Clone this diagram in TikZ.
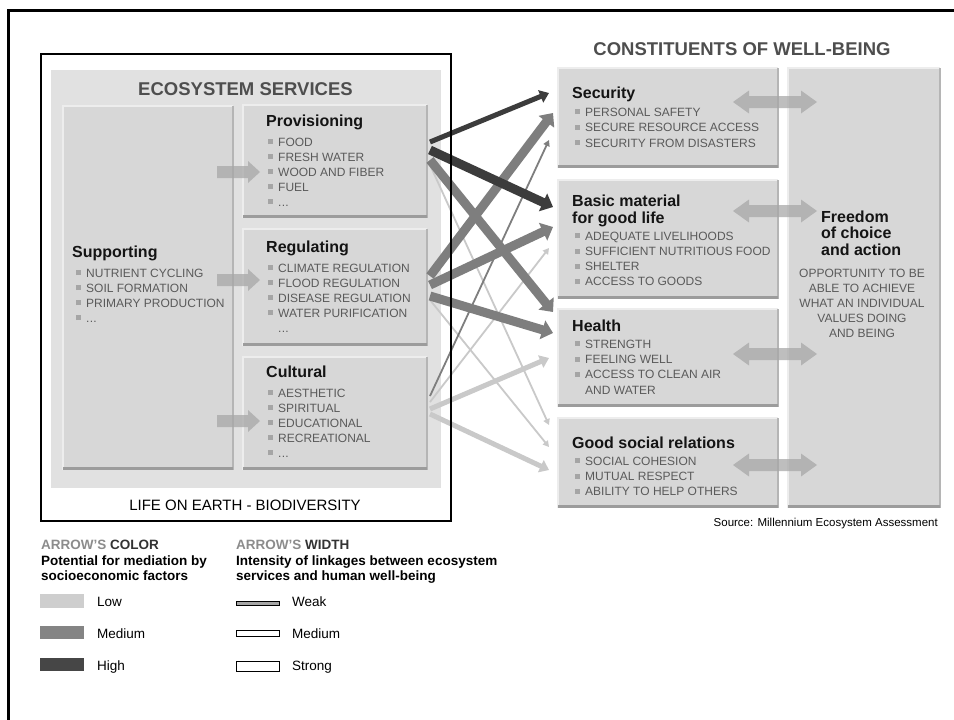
\documentclass[tikz,border=0pt]{standalone}
\usepackage{fontspec}
\setmainfont{Liberation Sans}
\usetikzlibrary{arrows.meta}
\definecolor{areagray}{HTML}{E1E1E1}
\definecolor{boxgray}{HTML}{D7D7D7}
\definecolor{bevdark}{HTML}{9C9C9C}
\definecolor{bevlight}{HTML}{EDEDED}
\definecolor{itemgray}{HTML}{5A5A5A}
\definecolor{bulgray}{HTML}{A5A5A5}
\definecolor{headgray}{HTML}{4E4E4E}
\definecolor{lowc}{HTML}{C9C9C9}
\definecolor{medc}{HTML}{7E7E7E}
\definecolor{highc}{HTML}{3C3C3C}
\definecolor{blockc}{HTML}{A6A6A6}
\newcommand\bul{\textcolor{bulgray}{\rule[1.8pt]{5pt}{5pt}}\hspace{5pt}}
\newcommand\rbul{\textcolor{bulgray}{\rule[1.8pt]{5pt}{5pt}}\hspace{5pt}}
\newcommand\mydots{.\kern0.3pt.\kern0.3pt.}
\newcommand\mybevel[1]{%
  \draw[bevlight, line width=1.5pt] (#1.south west) -- (#1.north west) -- (#1.north east);
  \draw[bevdark!75, line width=1.5pt] (#1.north east) -- (#1.south east);
  \draw[bevdark, line width=3pt] ([yshift=1.5pt]#1.south west) -- ([yshift=1.5pt]#1.south east);}
\newcommand\myitems[6]{% style, prefix, x, first baseline, spacing, list
  \foreach \t [count=\i] in {#6} \node[#1] (#2\i) at (#3, {#4+#5*(\i-1)}) {\t};}
\begin{document}
\begin{tikzpicture}[x=1pt,y=-1pt,
  box/.style={rectangle, fill=boxgray, anchor=north west, inner sep=0pt, outer sep=0pt},
  ttl/.style={anchor=base west, inner sep=0pt, font=\bfseries\fontsize{16}{18}\selectfont, text=black!92},
  itm/.style={anchor=base west, inner sep=0pt, font=\fontsize{12}{14}\selectfont, text=itemgray},
  bigttl/.style={anchor=base, inner sep=0pt, font=\bfseries\fontsize{18.5}{20}\selectfont, text=headgray},
  lgd/.style={anchor=base west, inner sep=0pt, font=\fontsize{13.5}{15}\selectfont},
  lgdb/.style={anchor=base west, inner sep=0pt, font=\bfseries\fontsize{13.5}{15}\selectfont},
  strongarr/.style={line width=9pt, -{Triangle[length=11pt,width=19pt]}},
  medarr/.style={line width=5pt, -{Triangle[length=9pt,width=13pt]}},
  weakarr/.style={line width=1.8pt, -{Triangle[length=6pt,width=6.5pt]}},
  blockarr/.style={fill=blockc, fill opacity=0.72}
]
\useasboundingbox (0,0) rectangle (954,720);
\fill[white] (0,0) rectangle (954,720);
% outer frame
\draw[line width=3pt] (8,720) -- (8,10.5) -- (954,10.5);

% ecosystem services area
\node[box, fill=areagray, minimum width=390pt, minimum height=418pt] (ecoarea) at (51,70) {};
\node[bigttl] (ecotitle) at (245.5,95) {ECOSYSTEM SERVICES};

\node[box, minimum width=170pt, minimum height=364pt] (sup) at (63,106) {};
\node[box, minimum width=184pt, minimum height=113pt] (prov) at (243,105) {};
\node[box, minimum width=184pt, minimum height=117pt] (reg) at (243,229) {};
\node[box, minimum width=184pt, minimum height=113pt] (cult) at (243,357) {};
\mybevel{sup}\mybevel{prov}\mybevel{reg}\mybevel{cult}

\node[ttl] (suptitle) at (72,257) {Supporting};
\node[ttl] (provtitle) at (266,126) {Provisioning};
\node[ttl] (regtitle) at (266,252) {Regulating};
\node[ttl] (culttitle) at (266,377) {Cultural};

\myitems{itm}{supi}{76}{277}{15}{\bul NUTRIENT CYCLING, \bul SOIL FORMATION, \bul PRIMARY PRODUCTION, \bul\mydots}
\myitems{itm}{provi}{268}{146}{15}{\bul FOOD, \bul FRESH WATER, \bul WOOD AND FIBER, \bul FUEL, \bul\mydots}
\myitems{itm}{regi}{268}{272}{15}{\bul CLIMATE REGULATION, \bul FLOOD REGULATION, \bul DISEASE REGULATION, \bul WATER PURIFICATION}
\node[itm] (regi5) at (278,332) {\mydots};
\myitems{itm}{culti}{268}{397}{15}{\bul AESTHETIC, \bul SPIRITUAL, \bul EDUCATIONAL, \bul RECREATIONAL, \bul\mydots}

% block arrows supporting -> services
\foreach \yy in {172, 280, 421}
  \fill[blockarr] (217,\yy-6) -- (248,\yy-6) -- (248,\yy-11) -- (260,\yy) -- (248,\yy+11) -- (248,\yy+6) -- (217,\yy+6) -- cycle;

\node[anchor=base, inner sep=0pt, font=\fontsize{15}{17}\selectfont] (life) at (245,510) {LIFE ON EARTH - BIODIVERSITY};

% right side
\node[bigttl] (contitle) at (742,56) {CONSTITUENTS OF WELL-BEING};
\node[box, minimum width=220pt, minimum height=100pt] (sec) at (558,68) {};
\node[box, minimum width=220pt, minimum height=119pt] (basic) at (558,180) {};
\node[box, minimum width=220pt, minimum height=98pt] (health) at (558,309) {};
\node[box, minimum width=220pt, minimum height=90pt] (social) at (558,418) {};
\node[box, minimum width=152pt, minimum height=440pt] (free) at (788,68) {};
\mybevel{sec}\mybevel{basic}\mybevel{health}\mybevel{social}\mybevel{free}

\node[ttl] (sectitle) at (572,98) {Security};
\node[ttl] (basictitle) at (572,206) {Basic material};
\node[ttl] (basictitleb) at (572,223) {for good life};
\node[ttl] (healthtitle) at (572,331) {Health};
\node[ttl] (socialtitle) at (572,448) {Good social relations};

\myitems{itm}{seci}{575}{116}{15.5}{\rbul PERSONAL SAFETY, \rbul SECURE RESOURCE ACCESS, \rbul SECURITY FROM DISASTERS}
\myitems{itm}{basici}{575}{240}{15.3}{\rbul ADEQUATE LIVELIHOODS, \rbul SUFFICIENT NUTRITIOUS FOOD, \rbul SHELTER, \rbul ACCESS TO GOODS}
\myitems{itm}{healthi}{575}{348}{15.3}{\rbul STRENGTH, \rbul FEELING WELL, \rbul ACCESS TO CLEAN AIR}
\node[itm] (healthi4) at (585,394) {AND WATER};
\myitems{itm}{sociali}{575}{465}{15.3}{\rbul SOCIAL COHESION, \rbul MUTUAL RESPECT, \rbul ABILITY TO HELP OTHERS}

\node[ttl] (freet1) at (821,222) {Freedom};
\node[ttl] (freet2) at (821,238.5) {of choice};
\node[ttl] (freet3) at (821,255) {and action};
\foreach \t [count=\i] in {OPPORTUNITY TO BE, ABLE TO ACHIEVE, WHAT AN INDIVIDUAL, VALUES DOING, AND BEING}
  \node[anchor=base, inner sep=0pt, font=\fontsize{12}{14}\selectfont, text=itemgray] (freei\i) at (862,{277+15*(\i-1)}) {\t};

% double arrows
\foreach \yy in {102,211,354,465}
  \fill[blockarr] (733,\yy) -- (749,\yy-11.5) -- (749,\yy-6) -- (801,\yy-6) -- (801,\yy-11.5) -- (817,\yy)
     -- (801,\yy+11.5) -- (801,\yy+6) -- (749,\yy+6) -- (749,\yy+11.5) -- cycle;

\node[anchor=base east, inner sep=0pt, font=\fontsize{11.5}{13}\selectfont] (source) at (938,526) {Source: Millennium Ecosystem Assessment};

% connector end points
\coordinate (p1) at (430,142); \coordinate (p2) at (430,150); \coordinate (p3) at (430,160); \coordinate (p4) at (430,165);
\coordinate (r1) at (430,276); \coordinate (r2) at (430,285); \coordinate (r3) at (430,296); \coordinate (r4) at (430,300);
\coordinate (c1) at (430,396); \coordinate (c2) at (430,402); \coordinate (c3) at (430,409); \coordinate (c4) at (430,414);
\coordinate (s1) at (549,93); \coordinate (s2) at (553,113); \coordinate (s3) at (549,140);
\coordinate (b1) at (553,207); \coordinate (b2) at (553,227); \coordinate (b3) at (549,248);
\coordinate (h1) at (553,312); \coordinate (h2) at (553,333); \coordinate (h3) at (549,358);
\coordinate (g1) at (549,425); \coordinate (g2) at (549,447); \coordinate (g3) at (549,470);

% connectors: light first, then medium, then dark
\draw[weakarr, lowc] (p4) -- (g1);
\draw[weakarr, lowc] (r4) -- (g2);
\draw[weakarr, lowc] (c2) -- (b3);
\draw[medarr, lowc] (c3) -- (h3);
\draw[medarr, lowc] (c4) -- (g3);
\draw[weakarr, medc] (c1) -- (s3);
\draw[strongarr, medc] (r1) -- (s2);
\draw[strongarr, medc] (r2) -- (b2);
\draw[strongarr, medc] (r3) -- (h2);
\draw[strongarr, medc] (p3) -- (h1);
\draw[medarr, highc] (p1) -- (s1);
\draw[strongarr, highc] (p2) -- (b1);

% life on earth frame (on top of connectors)
\node[draw, line width=2pt, anchor=north west, inner sep=0pt, minimum width=410pt, minimum height=467pt] (lifeframe) at (40,53) {};

% legend
\node[lgdb] (lc1) at (41,549) {\textcolor{black!45}{ARROW'S} \textcolor{black!80}{COLOR}};
\node[lgdb] (lc2) at (41,565) {Potential for mediation by};
\node[lgdb] (lc3) at (41,580.5) {socioeconomic factors};
\fill[lowc!90!white] (40,594) rectangle (84,608);
\fill[medc!95!white] (40,626) rectangle (84,639);
\fill[highc!95!white] (40,658) rectangle (84,671);
\node[lgd] (llow) at (97,606) {Low};
\node[lgd] (lmed) at (97,638) {Medium};
\node[lgd] (lhigh) at (97,670) {High};

\node[lgdb] (lw1) at (236,549) {\textcolor{black!45}{ARROW'S} \textcolor{black!80}{WIDTH}};
\node[lgdb] (lw2) at (236,565) {Intensity of linkages between ecosystem};
\node[lgdb] (lw3) at (236,580.5) {services and human well-being};
\draw[line width=0.9pt, fill=black!35] (236,601.5) rectangle (279,605);
\draw[line width=0.9pt, fill=white] (236,630) rectangle (279,636.5);
\draw[line width=0.9pt, fill=white] (236,661) rectangle (279,671);
\node[lgd] (lweak) at (292,606) {Weak};
\node[lgd] (lmedium) at (292,638) {Medium};
\node[lgd] (lstrong) at (292,670) {Strong};
\end{tikzpicture}
\end{document}
